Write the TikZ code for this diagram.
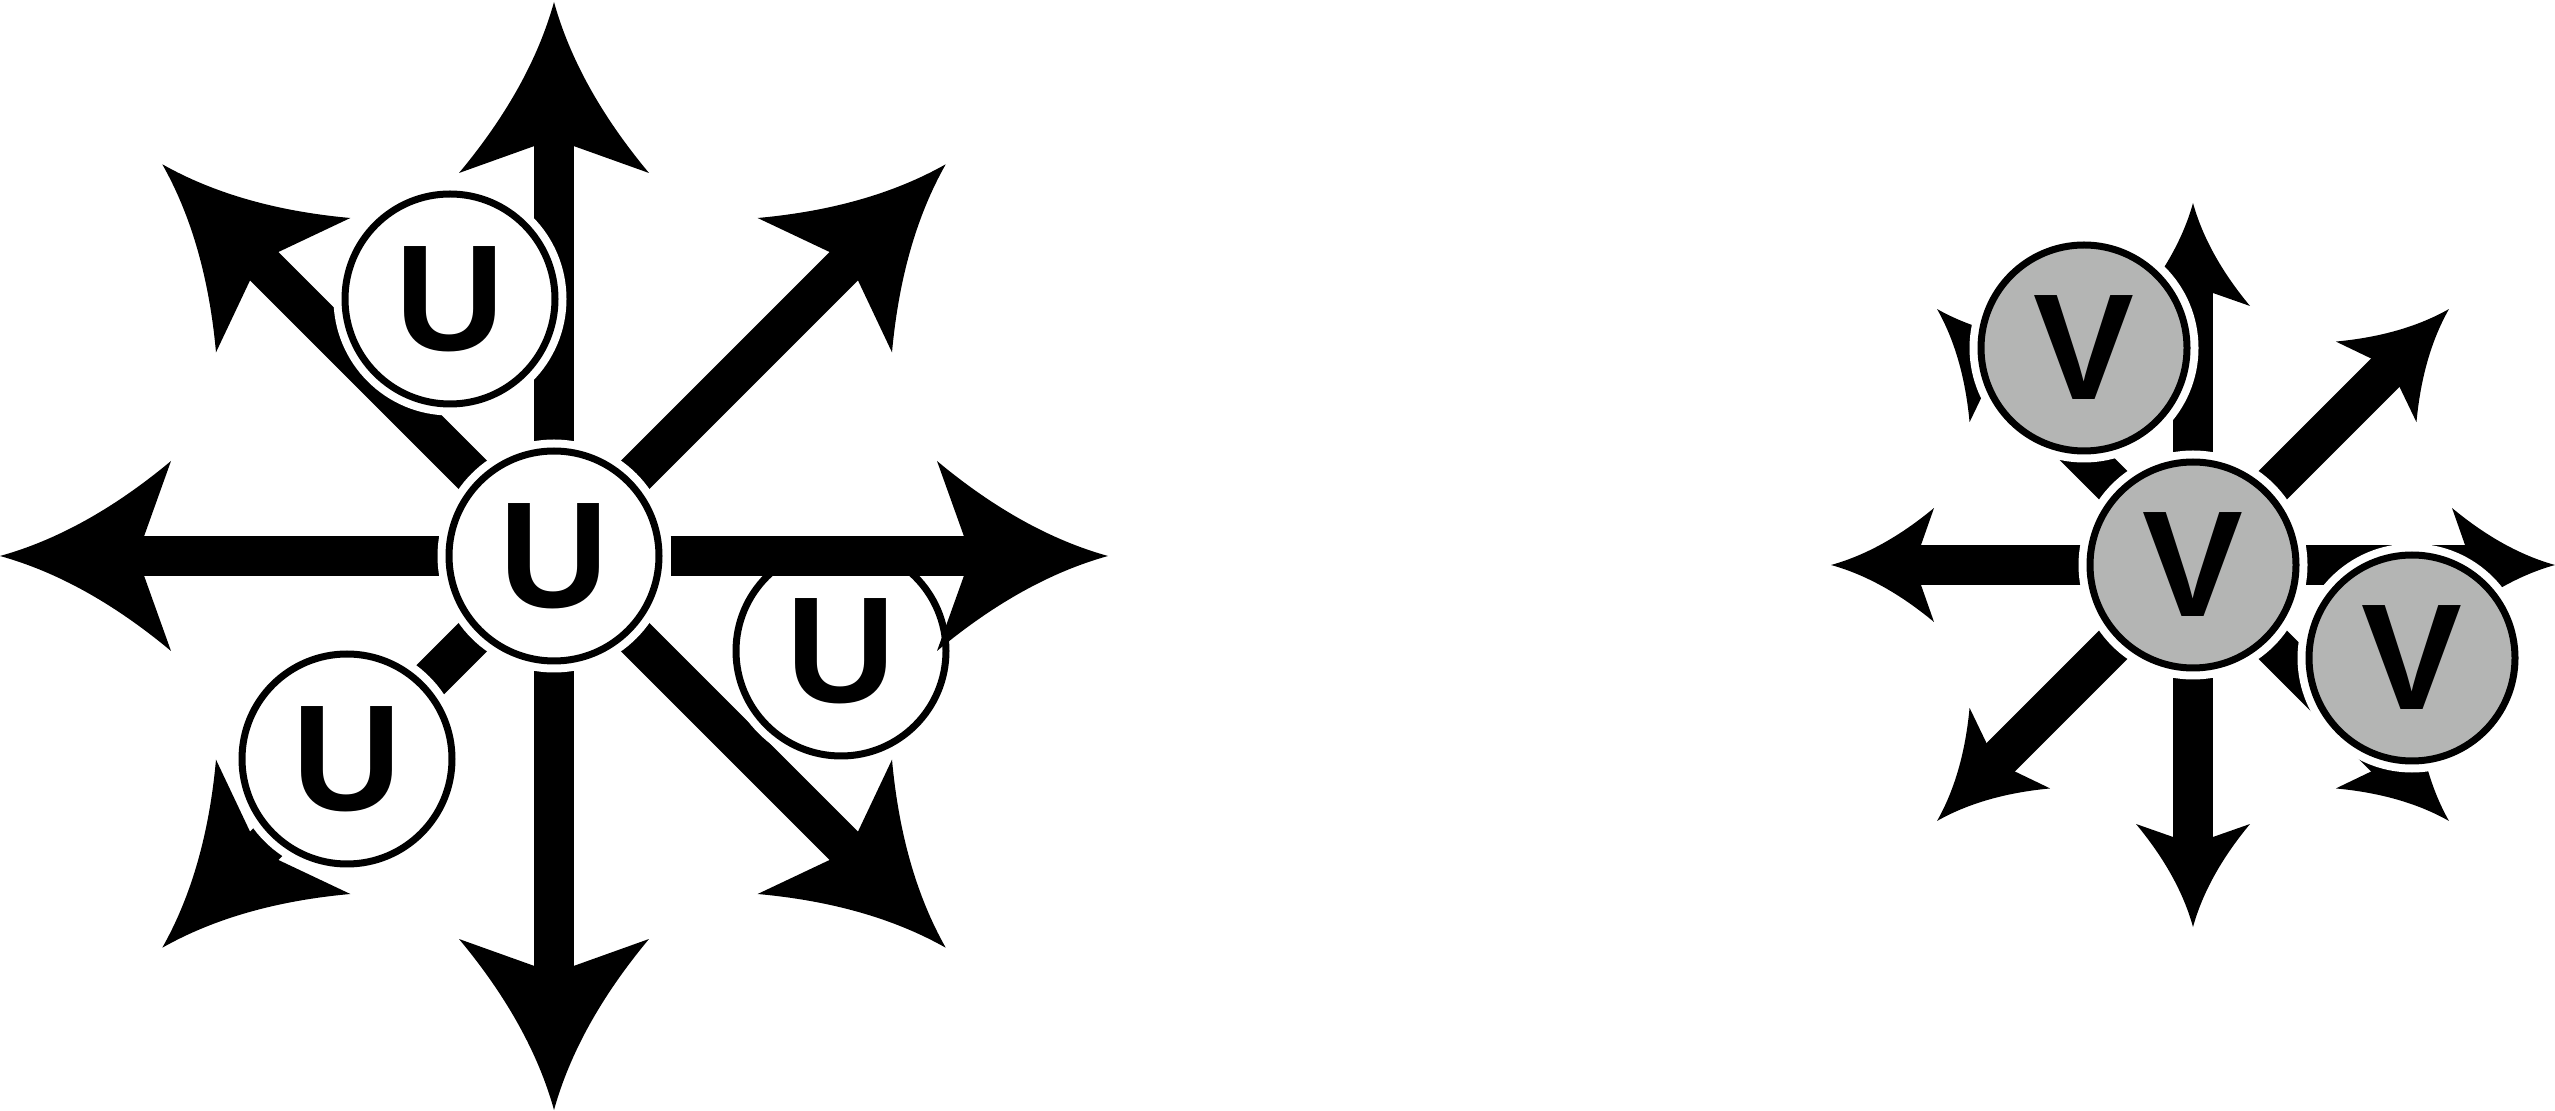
\documentclass[tikz,border=0pt]{standalone}
\usepackage{fontspec}
\setmainfont{Liberation Sans}
\usetikzlibrary{arrows.meta, backgrounds}
\usepackage{xcolor}

\definecolor{vgray}{RGB}{180,181,180}

% concave (flared) arrow head
\pgfdeclarearrow{
  name = Flare,
  parameters = {\the\pgfarrowlength,\the\pgfarrowwidth,\the\pgfarrowinset},
  setup code = {
    \pgfarrowssettipend{0pt}
    \pgfarrowssetlineend{-.7\pgfarrowlength}
    \pgfarrowshullpoint{0pt}{0pt}
    \pgfarrowsupperhullpoint{-\pgfarrowlength}{.5\pgfarrowwidth}
    \pgfarrowssavethe\pgfarrowlength
    \pgfarrowssavethe\pgfarrowwidth
    \pgfarrowssavethe\pgfarrowinset
  },
  drawing code = {
    \pgfpathmoveto{\pgfqpoint{0pt}{0pt}}
    \pgfpathcurveto{\pgfqpoint{-.333\pgfarrowlength}{.083\pgfarrowwidth}}
      {\pgfqpoint{-.667\pgfarrowlength}{.25\pgfarrowwidth}}
      {\pgfqpoint{-\pgfarrowlength}{.5\pgfarrowwidth}}
    \pgfpathlineto{\pgfqpoint{\dimexpr\pgfarrowinset-\pgfarrowlength\relax}{0pt}}
    \pgfpathlineto{\pgfqpoint{-\pgfarrowlength}{-.5\pgfarrowwidth}}
    \pgfpathcurveto{\pgfqpoint{-.667\pgfarrowlength}{-.25\pgfarrowwidth}}
      {\pgfqpoint{-.333\pgfarrowlength}{-.083\pgfarrowwidth}}
      {\pgfqpoint{0pt}{0pt}}
    \pgfpathclose
    \pgfusepathqfill
  },
  defaults = {length=10mm, width=11mm, inset=2mm}
}

\tikzset{
  cell/.style={circle, draw, line width=0.7mm, minimum size=21mm, inner sep=0pt,
    font=\bfseries\fontsize{43pt}{43pt}\selectfont,
    preaction={draw=white, line width=2.3mm}},
  ucell/.style={cell, fill=white},
  vcell/.style={cell, fill=vgray, minimum size=20.6mm},
  shaft/.style={line width=4mm},
  bighead/.style={-{Flare[length=17.1mm, width=19mm, inset=3.4mm]}},
  smallhead/.style={-{Flare[length=10.3mm, width=11.4mm, inset=2mm]}}
}

\begin{document}
\begin{tikzpicture}[x=0.1mm, y=0.1mm]
  \useasboundingbox (0,0) rectangle (2555,1110);

  % left cluster
  \node[ucell] (u0) at (554,554) {U};
  \node[ucell] (u1) at (450,811) {U};
  \node[ucell] (u2) at (347,351) {U};
  \node[ucell] (u3) at (841,459) {U};

  % right cluster
  \node[vcell] (v0) at (2193,545) {V};
  \node[vcell] (v1) at (2084,762) {V};
  \node[vcell] (v2) at (2412,452) {V};

  \foreach \a/\n in {0/e,45/ne,90/n,135/nw,180/w,225/sw,270/s,315/se}{
    \path (u0.center) ++(\a:554) coordinate (u-\n);
    \path (v0.center) ++(\a:362) coordinate (v-\n);
  }

  \begin{scope}[on background layer]
    \foreach \n in {ne,n,nw,w,sw,s,se}
      \draw[shaft, bighead] (u0) -- (u-\n);
    \foreach \n in {e,ne,n,nw,w,sw,s,se}
      \draw[shaft, smallhead] (v0) -- (v-\n);
  \end{scope}
  % runs over the right-hand U
  \draw[shaft, bighead, shorten <=0.8mm] (u0) -- (u-e);
\end{tikzpicture}
\end{document}
